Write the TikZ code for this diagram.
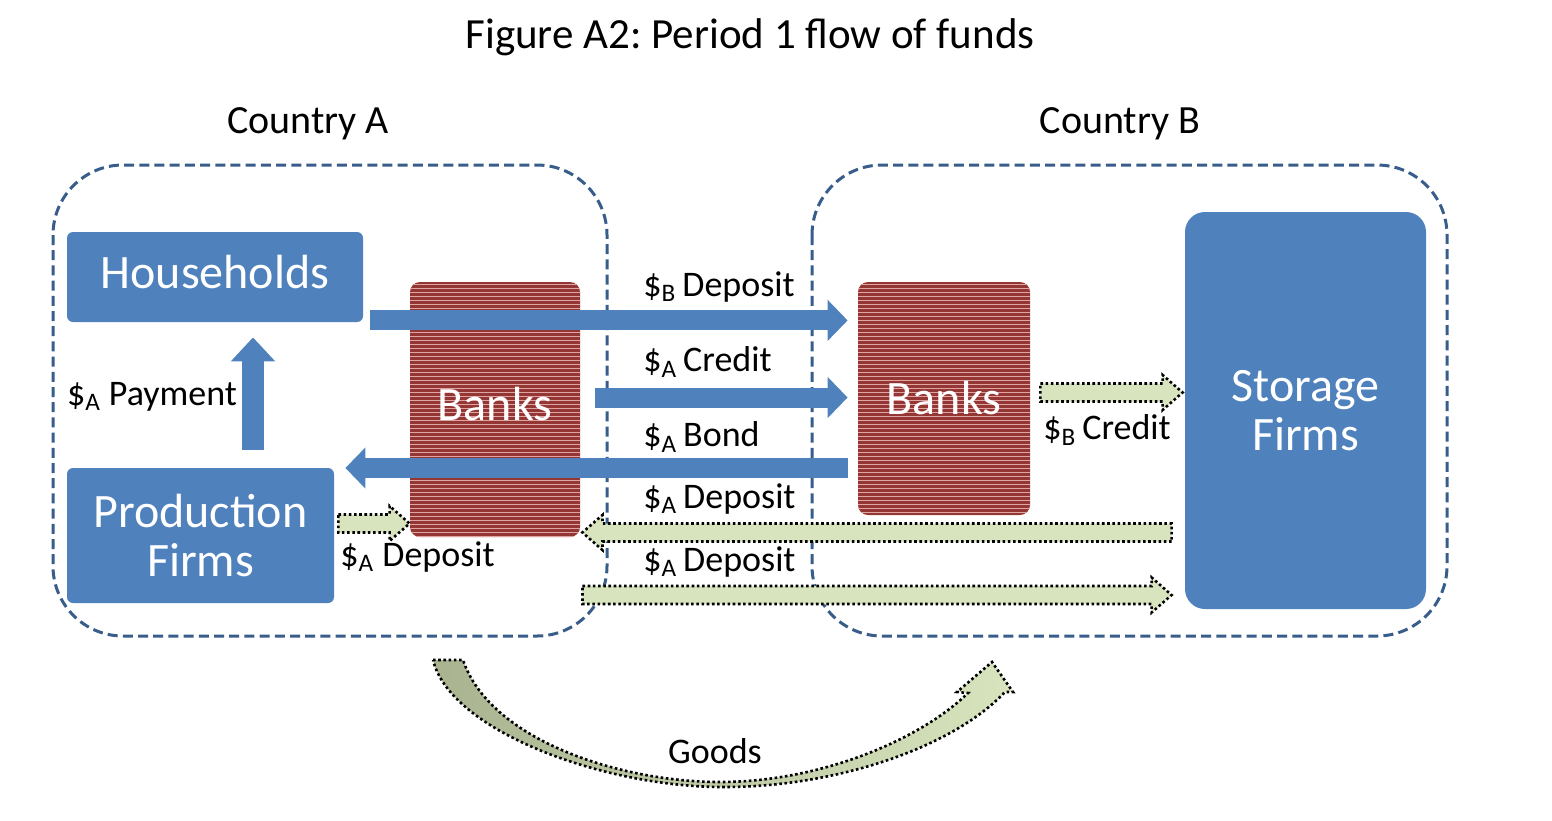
\documentclass[tikz,border=0pt]{standalone}
\usepackage{fontspec}
\setmainfont{Carlito}
\usetikzlibrary{arrows.meta,calc,patterns.meta}
\definecolor{boxBlue}{HTML}{4F81BD}
\definecolor{edgeBlue}{HTML}{385D8A}
\definecolor{bankRed}{HTML}{943634}
\definecolor{bankLine}{HTML}{DFA5A4}
\definecolor{flowGreen}{HTML}{D7E4BD}
\definecolor{goodsOlive}{HTML}{A9B390}
\frenchspacing

\tikzset{
  country/.style={draw=edgeBlue, line width=1.5pt, dash pattern=on 5pt off 2.6pt, rounded corners=35pt},
  agent/.style={fill=boxBlue, text=white, align=center, font=\fontsize{24}{24.5}\selectfont, rounded corners=#1},
  agent/.default=3pt,
  bank/.style={preaction={fill=bankRed}, pattern={Lines[angle=0,distance=2pt,line width=0.45pt]},
    pattern color=bankLine, text=white, font=\fontsize{24}{24.5}\selectfont, rounded corners=5pt},
  flowtext/.style={font=\fontsize{18}{20}\selectfont, inner sep=0pt},
  moneyflow/.style={draw=boxBlue, line width=10pt, -{Triangle[width=20pt,length=10pt]}},
  dotline/.style={draw=black, line width=1.3pt, dash pattern=on 1.3pt off 1.3pt},
  dotflow/.style={dotline, fill=flowGreen,
    to path={let \p1=(\tikztostart), \p2=(\tikztotarget),
      \n1={atan2(\y2-\y1,\x2-\x1)}, \n2={veclen(\x2-\x1,\y2-\y1)-10} in
      ($(\p1)+(\n1+90:4.5pt)$) -- ($(\p1)+(\n1:\n2)+(\n1+90:4.5pt)$)
      -- ($(\p1)+(\n1:\n2)+(\n1+90:8.75pt)$) -- (\p2)
      -- ($(\p1)+(\n1:\n2)+(\n1-90:8.75pt)$) -- ($(\p1)+(\n1:\n2)+(\n1-90:4.5pt)$)
      -- ($(\p1)+(\n1-90:4.5pt)$) -- cycle}},
  goodsflow/.style={dotline, left color=goodsOlive, right color=flowGreen}
}

\begin{document}
\begin{tikzpicture}[x=0.5pt, y=-0.5pt]
\useasboundingbox (0,0) rectangle (1552,820);

% ── titles ──
\node[font=\fontsize{21.5}{26}\selectfont] (title) at (750,37) {Figure A2: Period 1 flow of funds};
\node[font=\fontsize{20}{24}\selectfont] (ctyA) at (308,124) {Country A};
\node[font=\fontsize{20}{24}\selectfont] (ctyB) at (1120,124) {Country B};

% ── country frames ──
\draw[country] (53,165) rectangle (607,636);
\draw[country] (812,165) rectangle (1447,636);

% ── agents ──
\node[agent, minimum width=148pt, minimum height=45pt] (hh) at (215,277) {\raisebox{5pt}{Households}};
\node[agent, minimum width=133.5pt, minimum height=67.5pt] (pf) at (200.5,535.5) {Production\\Firms};
\node[agent=10pt, minimum width=120.5pt, minimum height=198.5pt] (sf) at (1305.5,410.5) {Storage\\Firms};
\node[bank, minimum width=85pt, minimum height=127.5pt] (bkA) at (495,409.5) {\raisebox{6pt}{Banks}};
\node[bank, minimum width=86pt, minimum height=116.5pt] (bkB) at (944,398.5) {Banks};

% ── anchors for the flows ──
\coordinate (bBin) at ([xshift=-5pt]bkB.west);
\coordinate (bAout) at ([xshift=1pt]bkA.east);
\coordinate (sfIn) at ([xshift=-6.5pt]sf.west);
\coordinate (pfIn) at ([xshift=5.5pt]pf.east);
\coordinate (dB) at ([shift={(3.5pt,1pt)}]hh.south east);
\coordinate (cA) at ([shift={(7.5pt,6pt)}]bkA.east);
\coordinate (bA) at ([yshift=-34.75pt]bBin);
\coordinate (dA0) at ([shift={(2pt,6pt)}]pf.east);
\coordinate (dA1) at ([yshift=-61pt]sfIn);
\coordinate (dA2) at ([yshift=-92.75pt]bAout);
\coordinate (cB) at ([shift={(5pt,3pt)}]bkB.east);
\coordinate (sfIn2) at ([xshift=-1pt]sf.west);

% ── solid flows ──
\draw[moneyflow, line width=11pt, -{Triangle[width=21.5pt,length=12pt]}]
  ([shift={(26.25pt,9pt)}]pf.north) -- ([shift={(19pt,-7.5pt)}]hh.south);
\draw[moneyflow] (dB) -- (bBin |- dB);
\draw[moneyflow] (cA) -- (bBin |- cA);
\draw[moneyflow] (bA) -- (pfIn |- bA);

% ── dotted flows ──
\draw[dotflow] (dA0) to (bkA.west |- dA0);
\draw[dotflow] (dA1) to (bAout |- dA1);
\draw[dotflow] (dA2) to (sfIn |- dA2);
\draw[dotflow] (cB) to (sfIn2 |- cB);

% ── goods ──
\draw[goodsflow] (433,660) -- (463,660)
  .. controls (490,740) and (620,782) .. (720,782)
  .. controls (820,782) and (920,740) .. (968,693)
  -- (957,692) -- (992,662) -- (1013,692) -- (1005,692)
  .. controls (950,750) and (830,788) .. (720,787)
  .. controls (600,786) and (450,730) .. (433,660) -- cycle;

% ── labels ──
\node[flowtext] (lPay) at (152,397) {\$\textsubscript{A} Payment};
\node[flowtext, anchor=west] (lBDep) at (643,287) {\$\textsubscript{B}\,Deposit};
\node[flowtext, anchor=west] (lACred) at (643,362) {\$\textsubscript{A}\,Credit};
\node[flowtext, anchor=west] (lABond) at (643,437) {\$\textsubscript{A}\,Bond};
\node[flowtext, anchor=west] (lADep1) at (643,499) {\$\textsubscript{A}\,Deposit};
\node[flowtext, anchor=west] (lADep2) at (643,562) {\$\textsubscript{A}\,Deposit};
\node[flowtext, anchor=west] (lADep0) at (340,557) {\$\textsubscript{A} Deposit};
\node[flowtext, anchor=west] (lBCred) at (1043,430) {\$\textsubscript{B}\,Credit};
\node[flowtext] (lGoods) at (715,751) {Goods};

\end{tikzpicture}
\end{document}
